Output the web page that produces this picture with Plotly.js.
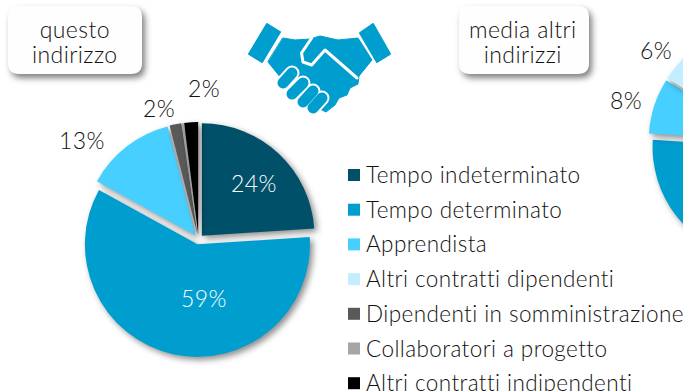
<!DOCTYPE html>
<html>
<head>
<meta charset="utf-8">
<script src="https://cdn.plot.ly/plotly-3.0.1.min.js"></script>
<style>
html,body{margin:0;padding:0;background:#fff;overflow:hidden;width:683px;height:391px}
#chart{width:900px;height:391px}
.pielayer .surface{filter:drop-shadow(3px 3px 3px rgba(0,0,0,.45))}
.shapelayer path{stroke-linecap:round;stroke-linejoin:round}
.shapelayer path[style*="fill: rgb(254, 254, 254)"]{filter:drop-shadow(3px 4px 3px rgba(0,0,0,.5))}
.annotation-text{letter-spacing:.42px}
</style>
</head>
<body>
<div id="chart"></div>
<script>
var categories = ["Tempo indeterminato","Tempo determinato","Apprendista","Altri contratti dipendenti","Dipendenti in somministrazione","Collaboratori a progetto","Altri contratti indipendenti"];
var questoIndirizzo = [24, 59.2, 13, 0, 1.7, 0.3, 2];
var mediaAltriIndirizzi = [30, 46, 8, 6, 4, 2, 4];
var sliceColors = ["#00506A","#009DCF","#47CFFF","#C2EEFF","#595959","#A6A6A6","#000000"];
var boxTitleLeft = "questo<br>indirizzo";
var boxTitleRight = "media altri<br>indirizzi";

var W = 900, H = 391, FONT = "Lato, 'Open Sans', sans-serif", INK = "#111111", ICON = "#009DCF";
function X(px){return px/W;}
function Y(py){return 1-py/H;}
function poly(pts,close){
  return pts.map(function(p,i){return (i?"L":"M")+X(p[0]).toFixed(5)+","+Y(p[1]).toFixed(5);}).join(" ")+(close?" Z":"");
}
function roundRect(x0,y0,x1,y1,r){
  function p(x,y){return X(x).toFixed(5)+","+Y(y).toFixed(5);}
  return "M"+p(x0+r,y0)+" L"+p(x1-r,y0)+" Q"+p(x1,y0)+" "+p(x1,y0+r)+" L"+p(x1,y1-r)+" Q"+p(x1,y1)+" "+p(x1-r,y1)+
         " L"+p(x0+r,y1)+" Q"+p(x0,y1)+" "+p(x0,y1-r)+" L"+p(x0,y0+r)+" Q"+p(x0,y0)+" "+p(x0+r,y0)+" Z";
}
function shape(path,fill,lineColor,lineWidth){
  return {type:"path",xref:"paper",yref:"paper",path:path,fillcolor:fill||"rgba(0,0,0,0)",line:{color:lineColor||"rgba(0,0,0,0)",width:lineWidth||0}};
}
function note(text,x,y,size,color,anchor){
  return {xref:"paper",yref:"paper",x:X(x),y:Y(y),text:text,showarrow:false,xanchor:anchor||"center",yanchor:"middle",
          align:"center",font:{family:FONT,size:size,color:color||INK,weight:300}};
}
function pct(v){return Math.round(v)+"%";}

var shapes = [], annotations = [];

// title boxes
shapes.push(shape(roundRect(8,6,142,74,11),"#FEFEFE"));
shapes.push(shape(roundRect(459,6,589,74,11),"#FEFEFE"));
annotations.push(note(boxTitleLeft,75,44,23));
annotations.push(note(boxTitleRight,523,44,23));

// handshake icon
shapes.push(shape(poly([[249,54],[267,24],[280,32],[262,62]],true),ICON,ICON,2));
shapes.push(shape(poly([[360,33],[373,24],[390,54],[377,62]],true),ICON,ICON,2));
shapes.push(shape(poly([[283,38],[295,40],[310,39],[320,36],[338,40],[358,38],[372,60],[359,76],[358,84],[350,88],[347,95],[339,98],[335,105],[326,112],[318,108],[281,78],[268,62]],true),ICON,ICON,1));
shapes.push(shape(poly([[311.7,38],[301.5,53],[303,62],[311.7,65],[325,50],[357,78]],false),null,"#FFFFFF",3));
var fingers = [[[283,83],[292,73]],[[292,94],[303,83]],[[303,102],[313,91]],[[313,108],[322,98]]];
fingers.forEach(function(f){ shapes.push(shape(poly(f,false),null,"#FFFFFF",15)); });
fingers.forEach(function(f){ shapes.push(shape(poly(f,false),null,ICON,11)); });

// legend
categories.forEach(function(c,i){
  var cy = 175 + i*34.7;
  shapes.push(shape(poly([[348,cy-6],[360,cy-6],[360,cy+6],[348,cy+6]],true),sliceColors[i]));
  annotations.push(note(c,364,cy-0.5,22.5,INK,"left"));
});

// percent labels
annotations.push(note(pct(questoIndirizzo[0]),254,183,23,"#FFFFFF"));
annotations.push(note(pct(questoIndirizzo[1]),204,298,23,"#FFFFFF"));
annotations.push(note(pct(questoIndirizzo[2]),82,140,23));
annotations.push(note(pct(questoIndirizzo[4]),159,108,23));
annotations.push(note(pct(questoIndirizzo[6]),204,88,23));
annotations.push(note(pct(mediaAltriIndirizzi[2]),626,100,23));
annotations.push(note(pct(mediaAltriIndirizzi[3]),656,50,23));

function pie(values,cx,cy){
  var R = 117.5;
  return {type:"pie",labels:categories,values:values,sort:false,direction:"clockwise",rotation:0,
    pull:values.map(function(){return 0.0442;}),
    marker:{colors:sliceColors,line:{width:0}},textinfo:"none",hoverinfo:"none",showlegend:false,
    domain:{x:[X(cx-R),X(cx+R)],y:[Y(cy+R),Y(cy-R)]}};
}

Plotly.newPlot("chart",[pie(questoIndirizzo,198.5,239.5),pie(mediaAltriIndirizzi,766,142)],{
  width:W,height:H,margin:{l:0,r:0,t:0,b:0},paper_bgcolor:"#FFFFFF",plot_bgcolor:"#FFFFFF",
  showlegend:false,shapes:shapes,annotations:annotations
},{displayModeBar:false,staticPlot:true}).then(function(){
  // tighter line spacing inside the two title boxes
  document.querySelectorAll(".annotation-text tspan.line").forEach(function(t){
    var dy = t.getAttribute("dy");
    if(dy && parseFloat(dy) > 0){ t.setAttribute("dy","25px"); }
  });
});
</script>
</body>
</html>
